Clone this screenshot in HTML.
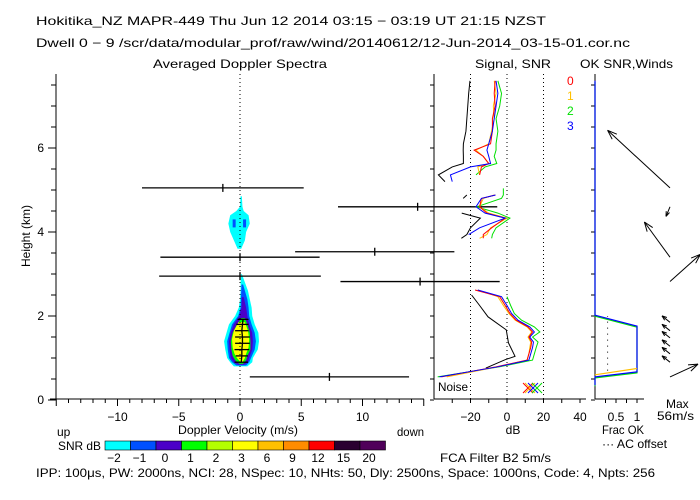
<!DOCTYPE html>
<html><head><meta charset="utf-8"><style>
body{margin:0;background:#fff}
svg{display:block}
text{font-family:"Liberation Sans",sans-serif;font-size:12px}
</style></head><body>
<svg id="c" width="700" height="500" viewBox="0 0 700 500" xmlns="http://www.w3.org/2000/svg">
<text x="36" y="25" font-size="13" textLength="510" lengthAdjust="spacingAndGlyphs">Hokitika_NZ  MAPR-449  Thu Jun 12 2014 03:15 − 03:19 UT 21:15 NZST</text>
<text x="36" y="47" font-size="12" textLength="594" lengthAdjust="spacingAndGlyphs">Dwell  0 −  9   /scr/data/modular_prof/raw/wind/20140612/12-Jun-2014_03-15-01.cor.nc</text>
<text x="153" y="68" textLength="174" lengthAdjust="spacingAndGlyphs">Averaged Doppler Spectra</text>
<text x="475" y="68" textLength="76" lengthAdjust="spacingAndGlyphs">Signal, SNR</text>
<text x="580" y="68" textLength="93" lengthAdjust="spacingAndGlyphs">OK SNR,Winds</text>
<text x="30" y="236" text-anchor="middle" transform="rotate(-90 30 236)">Height (km)</text>
<text x="178" y="434" textLength="120" lengthAdjust="spacingAndGlyphs">Doppler Velocity (m/s)</text>
<text x="57" y="436">up</text>
<text x="397" y="436" textLength="27" lengthAdjust="spacingAndGlyphs">down</text>
<text x="58" y="450" textLength="43" lengthAdjust="spacingAndGlyphs">SNR dB</text>
<text x="513" y="434" text-anchor="middle">dB</text>
<text x="602" y="434" textLength="42" lengthAdjust="spacingAndGlyphs">Frac OK</text>
<text x="602" y="448" textLength="65" lengthAdjust="spacingAndGlyphs">··· AC offset</text>
<text x="666" y="408">Max</text>
<text x="657" y="420" textLength="37" lengthAdjust="spacingAndGlyphs">56m/s</text>
<text x="440" y="462" textLength="111" lengthAdjust="spacingAndGlyphs">FCA Filter B2   5m/s</text>
<text x="36" y="477" textLength="619" lengthAdjust="spacingAndGlyphs">IPP: 100μs,  PW: 2000ns,  NCI:  28,  NSpec: 10, NHts: 50,  Dly: 2500ns,  Space: 1000ns,  Code: 4,  Npts: 256</text>
<text x="438" y="391" textLength="30" lengthAdjust="spacingAndGlyphs">Noise</text>
<g id="g"></g>
</svg>
<script>
// ---- data ----
const velTicks=[-10,-5,0,5,10];
const dbTicks=[-20,0,20,40];
const fracTicks=["0.5","1"];
const hTicks=[0,2,4,6];
const cbLabels=["−2","−1","0","1","2","3","6","9","12","15","20"];
const cbColors=["#00ffff","#0050ff","#4b00c8","#00ff00","#b4ff00","#ffff00","#ffc000","#ff8c00","#ff0000","#2a0030","#50005a"];
// spectral contours (height km, left/right velocity m/s)
const cyanH=[0.8,0.9,1.0,1.2,1.4,1.6,1.8,2.0,2.2,2.4,2.6,2.8,3.0];
const cyanL=[-0.5,-0.8,-1.05,-1.2,-1.3,-1.1,-0.9,-0.4,-0.1,0,0.05,0.05,0.1];
const cyanR=[0.6,1.0,1.05,1.45,1.55,1.5,1.2,1.0,0.95,0.8,0.65,0.4,0.15];
const blueH=[0.82,0.9,1.0,1.2,1.4,1.6,1.8,2.0,2.2,2.4,2.6,2.75];
const blueL=[-0.3,-0.65,-0.9,-1.0,-1.05,-0.85,-0.65,-0.15,0.05,0.08,0.1,0.12];
const blueR=[0.5,0.75,0.9,1.2,1.3,1.2,0.95,0.75,0.7,0.6,0.4,0.25];
const purpH=[0.84,0.9,1.0,1.2,1.4,1.6,1.8,2.0,2.2,2.45];
const purpL=[-0.15,-0.5,-0.75,-0.85,-0.9,-0.75,-0.5,-0.05,0.12,0.15];
const purpR=[0.3,0.65,0.75,1.0,1.05,1.0,0.75,0.6,0.5,0.3];
const grnH=[0.86,0.95,1.05,1.2,1.4,1.6,1.8,1.95];
const grnL=[-0.05,-0.4,-0.6,-0.7,-0.75,-0.6,-0.25,0.12];
const grnR=[0.25,0.5,0.6,0.85,0.85,0.8,0.6,0.4];
const yelH=[0.9,1.0,1.1,1.25,1.45,1.65,1.85];
const yelL=[0.05,-0.25,-0.45,-0.6,-0.65,-0.5,-0.12];
const yelR=[0.2,0.4,0.5,0.7,0.75,0.65,0.4];
const upH=[3.6,3.8,4.0,4.2,4.4,4.5,4.6,4.85];
const upL=[-0.2,-0.5,-0.8,-0.95,-0.8,-0.3,0.0,0.05];
const upR=[0.1,0.4,0.5,0.8,0.7,0.3,0.2,0.15];
// moment crosses
const momH=[0.9,1.05,1.2,1.35,1.5,1.65,1.8,1.92];
const momV=[0.1,0.15,0.15,0.2,0.2,0.15,0.2,0.25];
const momW=[0.55,0.5,0.6,0.6,0.6,0.55,0.5,0.45];
// width bars
const barH=[5.05,4.6,3.53,3.4,2.95,2.82,0.55];
const barV=[-1.4,14.5,11.0,0,0,14.7,7.3];
const barW=[6.6,6.5,6.5,6.5,6.6,6.5,6.5];
// signal/SNR profiles (dB vs height)
const sigH=[0.55,0.79,0.95,1.1,1.25,1.38,1.5,1.62,1.74,1.9,2.06,2.25,2.46,2.62];
const sig0=[-36,-6,11,12,13,13.5,12,14,11.5,5,1.6,-1,-4,-17.5];
const sig1=[-33,-5,11,12,12.5,13,11.5,13.5,11,4.5,1,-2,-5,-16];
const sig2=[-38,-4,14,15,16,17,14,18,15,8,4,2,0,null];
const sig3=[-37,-5,12,13,14,14.5,12.5,15,12.5,6,2.5,0,-3,-16];
const noiseLowH=[0.76,0.96,1.04,1.36,1.67,1.98,2.25,2.5];
const noiseLow=[-11.6,-1,4.4,0.8,-0.4,-10.4,-15,-19.4];
const midH=[3.85,3.94,4.1,4.33,4.45,4.6,4.8,4.88,5.04];
const mid0=[-13,-13,-8.4,-1,-11,-15,-14,-6.3,null];
const mid1=[-15,-11,-9,0,-10,-15,-13,-7,null];
const mid2=[-8.4,-8,-6,1.6,-5,-16.6,-3,-2,-2];
const mid3=[null,-21,-15,-1,-12,-17,-14,-6.3,null];
const midN=[-25,-22,-20,-14.6,-24.8,null,-24,-22,null];
const topH=[5.2,5.36,5.55,5.63,5.8,5.95,6.1,6.4,6.7,7.0,7.3,7.6];
const top0=[null,-15,-14,-10,-13,-18,-9,-8,-8,-6.5,-7,-6.5];
const top1=[null,-15,-16,-10,-13,-17,-10,-8.5,-7,-7.5,-6,-7];
const top2=[null,-17,-12,-5.6,-7,-6,-6,-5,-6,-4,-3,-5];
const top3=[-30,-31,-20,-9,-10,-11,-10,-8,-7,-6,-5,-6];
const topN=[-34,-37.6,-30,-23.9,-23.9,-24,-23.9,-22.5,-22,-21.5,-21,-20.3];
// OK fraction
const okH=[0.35,0.55,0.67,1.76,2.02,7.6];
const okF=[0,0,1,1,0,0];
const okOrH=[0.6,0.75];
const okOrF=[0,1];
// winds (u,v m/s)
const windH=[5.05,4.6,3.4,2.82,0.55,0.9,1.1,1.28,1.48,1.65,1.85];
const windU=[-39,-2.5,-16,19,17.5,-5,-5,-5,-5,-5,-5];
const windV=[36,-6,22,17,8,4,4,4,4,4,4];
// ---- scales ----
const yH=h=>400-42*h;
const xV=v=>240+12.25*v;
const xDb=d=>507+1.825*d;
const xF=f=>595+42*f;
const WS=1.6;
const NS="http://www.w3.org/2000/svg";
const G=document.getElementById('g');
function mk(t,a,p){const e=document.createElementNS(NS,t);for(const k in a)e.setAttribute(k,a[k]);(p||G).appendChild(e);return e;}
function line(x1,y1,x2,y2,c,w,d){return mk('line',{x1,y1,x2,y2,stroke:c||'#000','stroke-width':w||1,'stroke-dasharray':d||'none'});}
function contour(H,L,R,col,nm){
  let pts=[];for(let i=0;i<H.length;i++)pts.push(xV(L[i])+','+yH(H[i]));
  for(let i=H.length-1;i>=0;i--)pts.push(xV(R[i])+','+yH(H[i]));
  const e=mk('polygon',{points:pts.join(' '),fill:col});
  
  
}
contour(cyanH,cyanL,cyanR,'#00ffff','contour-cyan');
contour(blueH,blueL,blueR,'#0050ff','contour-blue');
contour(purpH,purpL,purpR,'#4b00c8','contour-purple');
contour(grnH,grnL,grnR,'#00ff00','contour-green');
contour(yelH,yelL,yelR,'#ffff00','contour-yellow');
contour(upH,upL,upR,'#00ffff','contour-upper-cyan');
mk('rect',{x:xV(-0.6),y:yH(4.3),width:3,height:8,fill:'#0050ff'});
mk('rect',{x:xV(0.25),y:yH(4.3),width:3,height:8,fill:'#0050ff'});
line(xV(0),74,xV(0),399,'#000',1,'1,3');
let mp=[];
for(let i=0;i<momH.length;i++){
  const y=yH(momH[i]);mp.push(xV(momV[i])+','+y);
  const e=line(xV(momV[i]-momW[i]),y,xV(momV[i]+momW[i]),y,'#000',1.3);
  
  
}
mk('polyline',{points:mp.join(' '),fill:'none',stroke:'#000','stroke-width':1.3});
for(let i=0;i<barH.length;i++){
  const y=yH(barH[i]);
  const e=line(xV(barV[i]-barW[i]),y,xV(barV[i]+barW[i]),y,'#000',1.3);
  
  
  line(xV(barV[i]),y-4,xV(barV[i]),y+4,'#000',1.3);
}
line(56,74,56,399);line(50,399,424,399);
for(let h=0;h<=7.5;h+=0.5){const y=yH(h);line(h%2==0?48:51,y,56,y);}
hTicks.forEach(h=>{const t=mk('text',{x:44,y:yH(h)+4,'text-anchor':'end'});t.textContent=h;

});
for(let v=-15;v<=15;v++){const x=xV(v);if(x<56||x>424)continue;line(x,399,x,v%5==0?406:403);}
velTicks.forEach(v=>{const t=mk('text',{x:xV(v),y:421,'text-anchor':'middle'});t.textContent=(v<0?'−'+(-v):v);

});
line(434,74,434,399);line(434,399,586,399);
for(let h=0;h<=7.5;h+=0.5){const y=yH(h);line(430,y,434,y);}
[-20,0,20].forEach(d=>line(xDb(d),74,xDb(d),399,'#000',1,'1,3'));
for(let d=-30;d<=40;d+=10){line(xDb(d),399,xDb(d),403);}
dbTicks.forEach(d=>{const t=mk('text',{x:xDb(d),y:421,'text-anchor':'middle'});t.textContent=(d<0?'−'+(-d):d);

});
function prof(H,V,col,nm){
  let seg=[];const flush=()=>{if(seg.length>1){const e=mk('polyline',{points:seg.join(' '),fill:'none',stroke:col,'stroke-width':1});
  
  }seg=[];};
  for(let i=0;i<H.length;i++){if(V[i]==null){flush();continue;}seg.push(xDb(V[i])+','+yH(H[i]));}
  flush();
}
const C0='#ff0000',C1='#ffc000',C2='#00e000',C3='#0000ff';
prof(noiseLowH,noiseLow,'#000','noise-line');
prof(midH,midN,'#000','noise-line');
prof(topH,topN,'#000','noise-line');
[[sig2,C2],[sig1,C1],[sig0,C0],[sig3,C3]].forEach(a=>prof(sigH,a[0],a[1],'snr-line'));
[[mid2,C2],[mid1,C1],[mid0,C0],[mid3,C3]].forEach(a=>prof(midH,a[0],a[1],'snr-line'));
[[top2,C2],[top1,C1],[top0,C0],[top3,C3]].forEach(a=>prof(topH,a[0],a[1],'snr-line'));
[['0',C0,81],['1',C1,96],['2',C2,111],['3',C3,126]].forEach(a=>{const t=mk('text',{x:567,y:a[2]+4,style:'fill:'+a[1]});t.textContent=a[0];

});
[[C0,528],[C1,530],[C3,533],[C2,537]].forEach(a=>{line(a[1]-5,383,a[1]+5,393,a[0]);line(a[1]-5,393,a[1]+5,383,a[0]);});
line(595,74,595,399);line(595,399,644,399);
for(let h=0;h<=7.5;h+=0.5){const y=yH(h);line(591,y,595,y);}
for(let f=0.25;f<=1.01;f+=0.25)line(xF(f),399,xF(f),403);
[[0.5,'0.5'],[1,'1']].forEach(a=>{const t=mk('text',{x:xF(a[0]),y:421,'text-anchor':'middle'});t.textContent=a[1];

});
let op=[];for(let i=0;i<okH.length;i++)op.push(xF(okF[i])+','+yH(okH[i]));
mk('polyline',{points:op.join(' '),fill:'none',stroke:'#00e000','stroke-width':1.2,transform:'translate(0,1)'});
let ok=mk('polyline',{points:op.join(' '),fill:'none',stroke:C3,'stroke-width':1.2});


let orp=[];for(let i=0;i<okOrH.length;i++)orp.push(xF(okOrF[i])+','+yH(okOrH[i]));
mk('polyline',{points:orp.join(' '),fill:'none',stroke:C1,'stroke-width':1.2});
line(xF(0.3),yH(0.7),xF(0.3),yH(2.0),'#000',1,'1,5');
for(let i=0;i<windH.length;i++){
  const x0=670,y0=yH(windH[i]);const x1=x0+windU[i]*WS,y1=y0-windV[i]*WS;
  const a=Math.atan2(y1-y0,x1-x0),L=Math.min(10,Math.hypot(x1-x0,y1-y0)*0.5);
  const g=mk('g',{stroke:'#000','stroke-width':1,fill:'none'});
  
  
  mk('line',{x1:x0,y1:y0,x2:x1,y2:y1},g);
  mk('line',{x1:x1,y1:y1,x2:x1-L*Math.cos(a-0.35),y2:y1-L*Math.sin(a-0.35)},g);
  mk('line',{x1:x1,y1:y1,x2:x1-L*Math.cos(a+0.35),y2:y1-L*Math.sin(a+0.35)},g);
}
for(let i=0;i<cbColors.length;i++){
  const r=mk('rect',{x:105+i*25.5,y:441,width:25.5,height:9,fill:cbColors[i],stroke:'#000','stroke-width':0.6});
  
  
  const t=mk('text',{x:105+i*25.5+9,y:462,'text-anchor':'middle'});t.textContent=cbLabels[i];
  
  
}
</script>
</body></html>
